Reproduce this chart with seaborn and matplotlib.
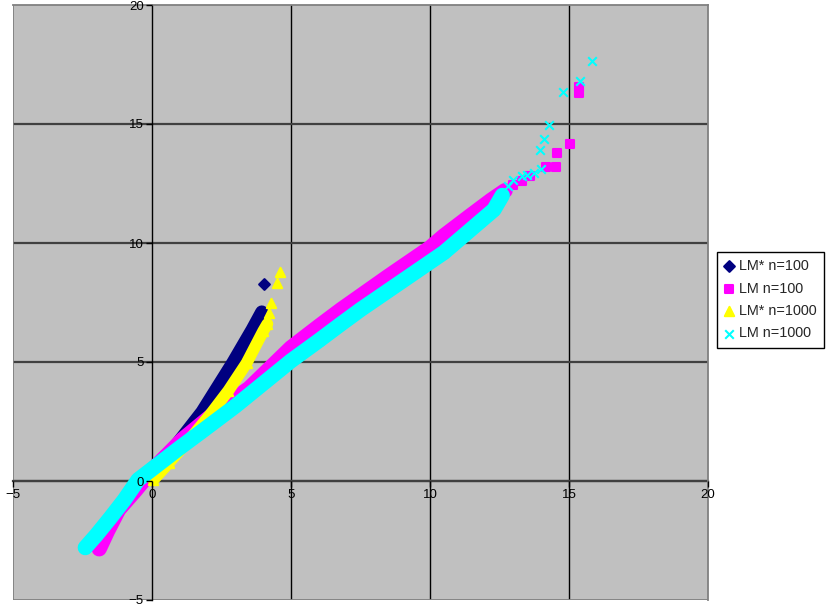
import matplotlib
matplotlib.use("Agg")
import matplotlib.pyplot as plt
import seaborn as sns

# LM* n=100 (navy diamonds)
navy_x = [0.0, 0.6, 1.2, 1.8, 2.9, 3.6, 3.95]
navy_y = [0.1, 1.1, 2.0, 2.9, 4.95, 6.35, 7.1]
navy_tail_x = [4.03]
navy_tail_y = [8.28]

# LM n=100 (magenta squares)
magenta_x = [-1.9, -1.6, -1.2, -0.6, 0.0, 1.1, 2.3, 3.5, 5.0, 6.0, 6.8, 8.5,
             10.0, 10.5, 11.4, 12.2, 12.7]
magenta_y = [-2.85, -2.1, -1.2, -0.4, 0.45, 1.75, 2.9, 3.9, 5.6, 6.5, 7.2, 8.6,
             9.8, 10.3, 11.1, 11.8, 12.2]
magenta_tail_x = [13.0, 13.3, 13.6, 14.17, 14.53, 14.57, 15.04, 15.35, 15.35]
magenta_tail_y = [12.45, 12.6, 12.8, 13.19, 13.19, 13.78, 14.16, 16.3, 16.55]

# LM* n=1000 (yellow triangles)
yellow_x = [0.05, 0.6, 1.5, 2.1, 2.75, 3.4, 4.0, 4.15]
yellow_y = [0.05, 0.75, 1.95, 2.8, 3.8, 4.95, 6.3, 6.6]
yellow_tail_x = [4.22, 4.28, 4.5, 4.6]
yellow_tail_y = [7.05, 7.5, 8.3, 8.8]

# LM n=1000 (cyan crosses)
cyan_x = [-2.4, -2.0, -1.5, -1.0, -0.5, 0.0, 1.0, 1.75, 3.0, 4.0, 5.0, 6.0, 6.8,
          7.5, 8.5, 9.5, 10.0, 10.5, 11.2, 11.8, 12.3, 12.6]
cyan_y = [-2.8, -2.27, -1.55, -0.8, 0.05, 0.5, 1.4, 2.05, 3.15, 4.1, 5.05, 5.9, 6.6,
          7.2, 8.0, 8.8, 9.2, 9.6, 10.3, 10.9, 11.4, 12.0]
cyan_tail_x = [12.8, 13.0, 13.3, 13.5, 13.75, 14.0, 13.95, 14.1, 14.28, 14.78, 15.4, 15.83]
cyan_tail_y = [12.4, 12.65, 12.8, 12.85, 12.95, 13.1, 13.9, 14.35, 14.95, 16.35, 16.8, 17.65]

ticks = [-5, 0, 5, 10, 15, 20]

series = [
    ("LM* n=100", "#000080", "D", 30, 9.5, navy_x, navy_y, navy_tail_x, navy_tail_y),
    ("LM n=100", "#FF00FF", "s", 36, 11, magenta_x, magenta_y, magenta_tail_x, magenta_tail_y),
    ("LM* n=1000", "#FFFF00", "^", 45, 8.5, yellow_x, yellow_y, yellow_tail_x, yellow_tail_y),
    ("LM n=1000", "#00FFFF", "x", 38, 11, cyan_x, cyan_y, cyan_tail_x, cyan_tail_y),
]

sns.set_style("white")
plt.rcParams["font.family"] = ["Liberation Sans", "DejaVu Sans"]

fig = plt.figure(figsize=(8.28, 6.06), dpi=100)
ax = fig.add_axes([13 / 828, 6 / 606, 695 / 828, 595 / 606])
ax.set_facecolor("#C0C0C0")

for i, (label, colour, marker, size, width, bx, by, tx, ty) in enumerate(series):
    z = 3 + i
    sns.lineplot(x=bx, y=by, sort=False, estimator=None, color=colour,
                 linewidth=width, solid_capstyle="round", legend=False,
                 ax=ax, zorder=z)
    sns.scatterplot(x=bx + tx, y=by + ty, marker=marker, s=size, color=colour,
                    edgecolor=colour, linewidth=1.5, label=label, ax=ax, zorder=z)

if ax.get_legend() is not None:
    ax.get_legend().remove()

ax.set_xlim(-5, 20)
ax.set_ylim(-5, 20)

# Gridlines (under the data)
for t in ticks[2:-1]:
    ax.axvline(t, color="black", linewidth=1, zorder=0.5)
for t in ticks[1:-1]:
    ax.axhline(t, color="#404040", linewidth=1.6, zorder=0.5)

# Axes crossing at zero, grey outer frame
ax.spines["left"].set_position(("data", 0))
ax.spines["bottom"].set_position(("data", 0))
ax.spines["left"].set_color("black")
ax.spines["left"].set_linewidth(1)
ax.spines["bottom"].set_color("#404040")
ax.spines["bottom"].set_linewidth(1.6)
ax.spines["left"].set_zorder(0.6)
ax.spines["bottom"].set_zorder(0.6)
for side in ["top", "right"]:
    ax.spines[side].set_color("#808080")
    ax.spines[side].set_linewidth(1.3)
ax.axvline(-5, color="#808080", linewidth=1.3, zorder=0.6)
ax.axhline(-5, color="#808080", linewidth=1.3, zorder=0.6)

ax.set_xticks(ticks)
ax.set_yticks(ticks)
ax.tick_params(axis="both", direction="out", length=4, width=1, color="black",
               labelsize=9.5, pad=2, labelcolor="black")
ax.tick_params(axis="both", which="both", bottom=True, left=True)
ax.set(xlabel=None, ylabel=None)
ax.xaxis.set_zorder(10)
ax.yaxis.set_zorder(10)

handles, labels = ax.get_legend_handles_labels()
leg = fig.legend(handles, labels, loc="upper left",
                 bbox_to_anchor=(717 / 828, 1 - 252 / 606),
                 bbox_transform=fig.transFigure, fontsize=10.4, frameon=True,
                 fancybox=False, framealpha=1, edgecolor="black",
                 borderaxespad=0, borderpad=0.5, handlelength=0.7,
                 handletextpad=0.35, labelspacing=0.58)
leg.get_frame().set_linewidth(1)

fig.savefig("out.png", dpi=100, facecolor="white")
